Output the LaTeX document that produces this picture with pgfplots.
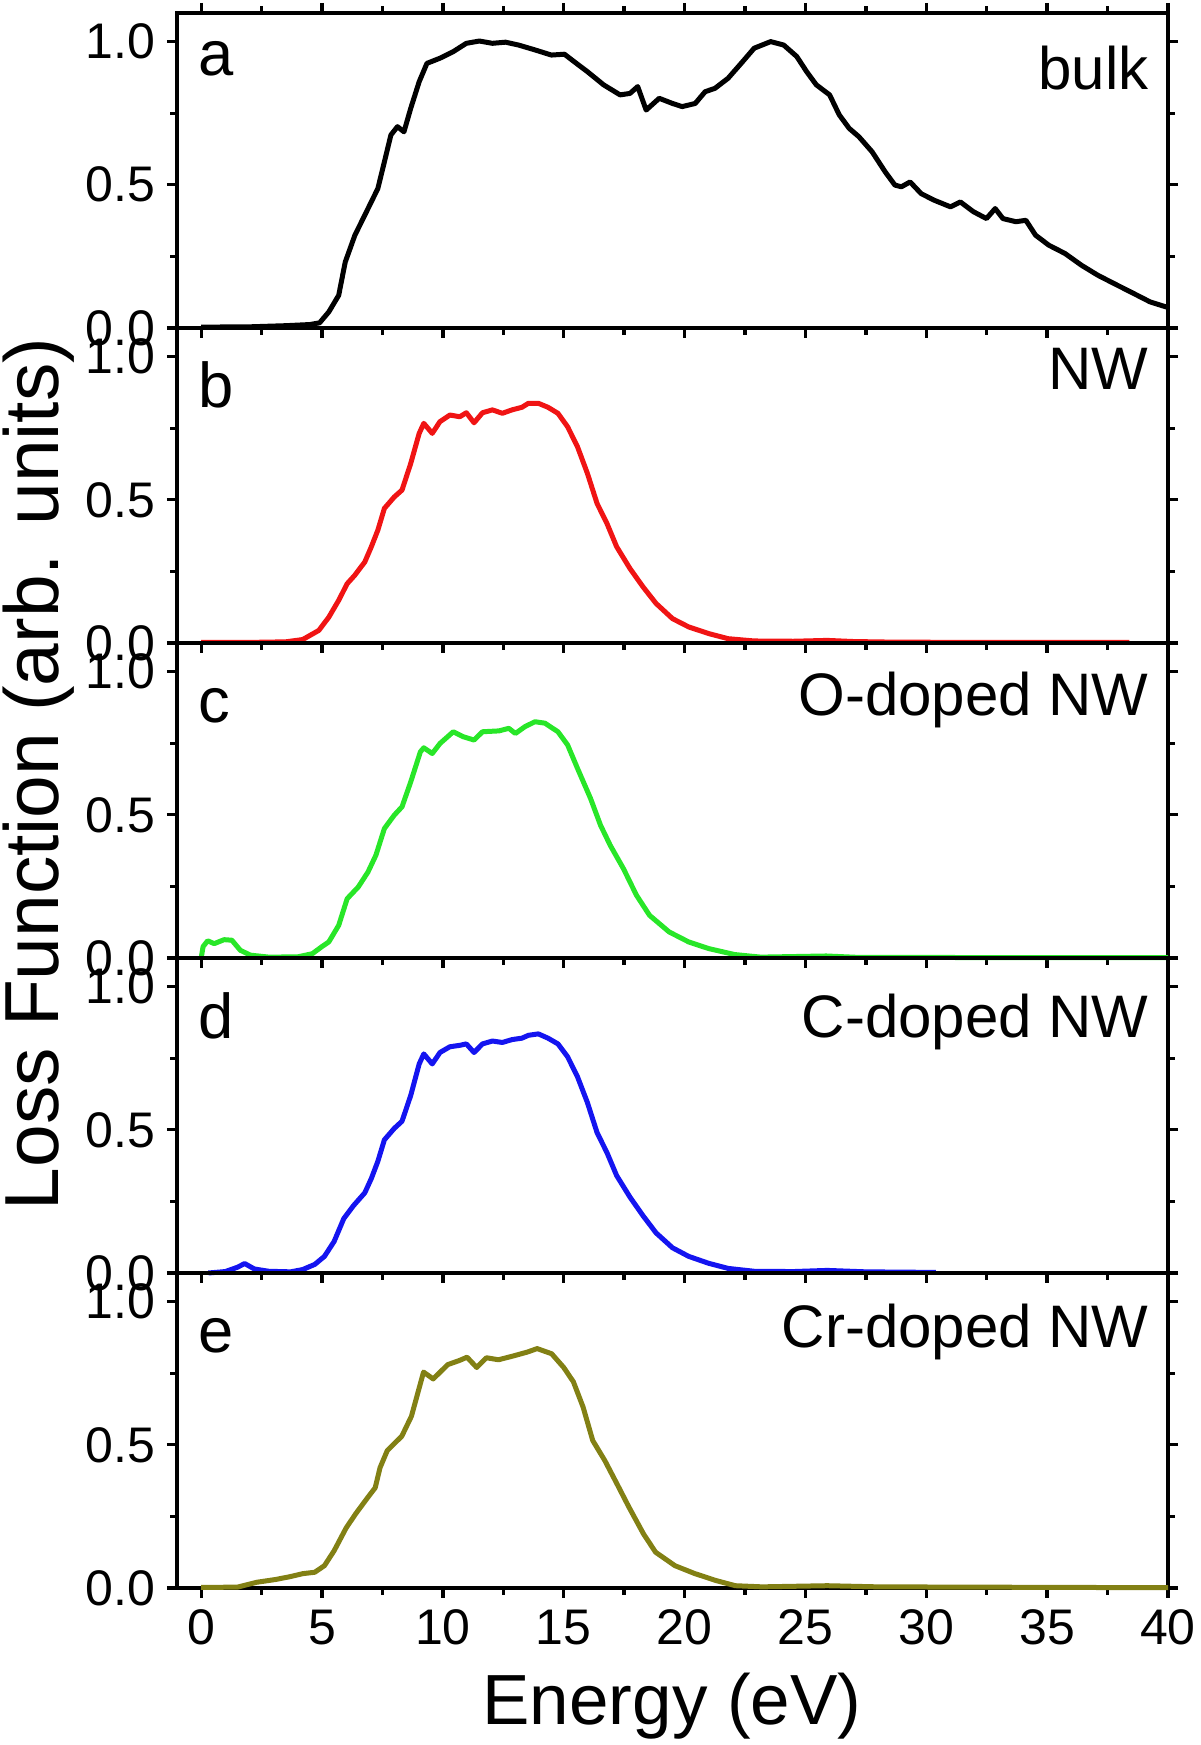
\documentclass[border=0pt]{standalone}
\usepackage{fontspec}
\setmainfont{Liberation Sans}
\usepackage{pgfplots}
\pgfplotsset{compat=1.18}
\definecolor{cgreen}{RGB}{40,230,40}
\definecolor{cblue}{RGB}{20,20,240}
\definecolor{cred}{RGB}{240,20,20}
\definecolor{colive}{RGB}{130,128,20}
\tikzset{
  curve/.style={line width=1.5pt, line join=round},
  lab/.style={font=\fontsize{19}{22}\selectfont, anchor=base west, inner sep=0pt},
  ann/.style={font=\fontsize{18}{21}\selectfont, anchor=base east, inner sep=0pt},
}
\pgfplotsset{
  panel/.style={
    scale only axis, width=297.3pt, height=94.5pt,
    anchor=south west,
    xmin=-1, xmax=40, ymin=0, ymax=1.1,
    xtick={0,5,...,40}, minor xtick={2.5,7.5,...,37.5},
    ytick={0,0.5,1}, minor ytick={0.25,0.75},
    tick align=outside,
    major tick length=3pt, minor tick length=2pt,
    every tick/.style={black, line width=1pt},
    axis line style={line width=1.3pt},
    xtick pos=left, ytick pos=both,
    clip=false,
    /pgf/number format/assume math mode=true,
    ticklabel style={font=\fontsize{15}{18}\selectfont},
    yticklabel style={/pgf/number format/.cd, fixed, fixed zerofill, precision=1},
    xticklabels={},
  },
}
\begin{document}
\begin{tikzpicture}
\path[use as bounding box] (0,0) rectangle (360pt,523.5pt);
% panel a
\begin{axis}[panel, at={(53.1pt,425.1pt)}, xtick pos=both]
\addplot[curve, black] coordinates {(0,0.003)(2,0.004)(3.5,0.008)(4.5,0.012)(4.9,0.018)(5.28,0.056)(5.69,0.114)(5.96,0.23)(6.36,0.324)(6.77,0.394)(7.31,0.487)(7.58,0.58)(7.85,0.674)(8.12,0.703)(8.39,0.685)(8.67,0.767)(9.02,0.86)(9.34,0.924)(9.88,0.942)(10.43,0.965)(10.97,0.994)(11.51,1.002)(12.05,0.994)(12.59,0.998)(13.13,0.988)(13.81,0.971)(14.49,0.953)(15.03,0.956)(15.43,0.93)(15.98,0.895)(16.65,0.849)(17.33,0.814)(17.74,0.819)(18.06,0.843)(18.41,0.761)(18.95,0.802)(19.5,0.784)(19.9,0.773)(20.44,0.784)(20.85,0.825)(21.26,0.837)(21.8,0.872)(22.34,0.924)(22.88,0.977)(23.56,1.0)(24.1,0.988)(24.64,0.948)(25.05,0.895)(25.45,0.849)(26.0,0.814)(26.4,0.744)(26.81,0.697)(27.21,0.668)(27.76,0.615)(28.3,0.545)(28.7,0.499)(28.97,0.493)(29.33,0.51)(29.79,0.469)(30.33,0.446)(31.0,0.423)(31.41,0.44)(31.95,0.406)(32.49,0.382)(32.85,0.417)(33.17,0.382)(33.71,0.371)(34.12,0.376)(34.52,0.324)(35.07,0.289)(35.74,0.26)(36.42,0.219)(37.1,0.184)(37.77,0.155)(38.45,0.126)(39.26,0.091)(39.94,0.073)};
\node[lab] at (rel axis cs:0.021,0.803) {a};
\node[ann] at (rel axis cs:0.981,0.756) {bulk};
\end{axis}
% panel b
\begin{axis}[panel, at={(53.1pt,330.6pt)}]
\addplot[curve, cred] coordinates {(0,0.002)(2,0.002)(3.5,0.004)(4.2,0.012)(4.87,0.044)(5.28,0.09)(5.69,0.149)(6.04,0.207)(6.36,0.237)(6.77,0.283)(7.04,0.336)(7.31,0.394)(7.58,0.47)(7.99,0.51)(8.31,0.534)(8.67,0.627)(9.02,0.732)(9.21,0.767)(9.56,0.732)(9.88,0.773)(10.29,0.796)(10.7,0.79)(10.97,0.804)(11.29,0.769)(11.64,0.804)(12.05,0.814)(12.46,0.802)(12.86,0.814)(13.27,0.823)(13.54,0.837)(13.95,0.837)(14.35,0.823)(14.76,0.802)(15.16,0.755)(15.57,0.685)(15.98,0.592)(16.38,0.487)(16.79,0.417)(17.19,0.336)(17.74,0.26)(18.28,0.196)(18.82,0.138)(19.5,0.085)(20.17,0.056)(20.99,0.033)(21.8,0.015)(22.88,0.007)(24.5,0.006)(25.9,0.009)(27,0.005)(28.6,0.003)(32,0.002)(38.4,0.002)};
\node[lab] at (rel axis cs:0.021,0.748) {b};
\node[ann] at (rel axis cs:0.981,0.806) {NW};
\end{axis}
% panel c
\begin{axis}[panel, at={(53.1pt,236.1pt)}]
\addplot[curve, cgreen] coordinates {(0,0.0)(0.08,0.04)(0.27,0.06)(0.54,0.05)(0.95,0.064)(1.27,0.062)(1.62,0.027)(2.03,0.01)(2.8,0.003)(4.0,0.004)(4.6,0.015)(5.0,0.04)(5.28,0.056)(5.69,0.114)(6.04,0.207)(6.5,0.248)(6.9,0.3)(7.23,0.359)(7.58,0.452)(7.99,0.499)(8.31,0.528)(8.67,0.615)(9.07,0.72)(9.21,0.734)(9.56,0.714)(9.88,0.749)(10.43,0.79)(10.83,0.773)(11.29,0.761)(11.64,0.79)(12.32,0.793)(12.73,0.802)(13.0,0.784)(13.4,0.808)(13.81,0.825)(14.22,0.82)(14.76,0.79)(15.16,0.744)(15.57,0.662)(16.11,0.557)(16.52,0.464)(16.92,0.394)(17.47,0.312)(18.01,0.219)(18.55,0.149)(19.36,0.091)(20.17,0.056)(20.99,0.033)(22.07,0.012)(23.15,0.003)(25.86,0.007)(27.2,0.002)(40,0.001)};
\node[lab] at (rel axis cs:0.021,0.746) {c};
\node[ann] at (rel axis cs:0.981,0.771) {O-doped NW};
\end{axis}
% panel d
\begin{axis}[panel, at={(53.1pt,141.6pt)}]
\addplot[curve, cblue] coordinates {(0.3,0)(1.0,0.005)(1.5,0.02)(1.8,0.033)(2.2,0.014)(2.8,0.006)(3.7,0.004)(4.2,0.012)(4.7,0.03)(5.1,0.058)(5.5,0.11)(5.9,0.19)(6.3,0.235)(6.77,0.28)(7.04,0.33)(7.31,0.39)(7.58,0.465)(7.99,0.505)(8.31,0.53)(8.67,0.62)(9.02,0.73)(9.21,0.765)(9.56,0.73)(9.88,0.77)(10.29,0.79)(10.7,0.795)(10.97,0.8)(11.29,0.77)(11.64,0.8)(12.05,0.81)(12.46,0.805)(12.86,0.815)(13.27,0.82)(13.54,0.83)(13.95,0.835)(14.35,0.82)(14.76,0.8)(15.16,0.755)(15.57,0.685)(15.98,0.595)(16.38,0.49)(16.79,0.42)(17.19,0.34)(17.74,0.265)(18.28,0.2)(18.82,0.14)(19.5,0.088)(20.17,0.058)(20.99,0.034)(21.8,0.016)(22.88,0.006)(24.5,0.005)(25.9,0.009)(27.5,0.004)(30.4,0.002)};
\node[lab] at (rel axis cs:0.021,0.743) {d};
\node[ann] at (rel axis cs:0.981,0.746) {C-doped NW};
\end{axis}
% panel e
\begin{axis}[panel, at={(53.1pt,47.1pt)}, xticklabels={0,5,10,15,20,25,30,35,40}]
\addplot[curve, colive] coordinates {(0,0.002)(1.5,0.003)(2.3,0.02)(3.1,0.03)(3.7,0.04)(4.2,0.05)(4.7,0.055)(5.1,0.078)(5.5,0.13)(6.0,0.21)(6.4,0.26)(6.9,0.317)(7.2,0.35)(7.4,0.42)(7.7,0.48)(8.3,0.53)(8.7,0.6)(9.2,0.754)(9.6,0.73)(10.2,0.78)(10.7,0.795)(11.0,0.806)(11.4,0.77)(11.8,0.804)(12.3,0.797)(12.9,0.81)(13.5,0.824)(13.9,0.836)(14.5,0.818)(15.0,0.77)(15.4,0.72)(15.8,0.632)(16.2,0.515)(16.7,0.445)(17.2,0.364)(17.7,0.282)(18.3,0.189)(18.8,0.125)(19.6,0.078)(20.4,0.051)(21.3,0.026)(22.1,0.008)(23.2,0.004)(25.9,0.008)(28.0,0.004)(40,0.001)};
\node[lab] at (rel axis cs:0.021,0.749) {e};
\node[ann] at (rel axis cs:0.981,0.762) {Cr-doped NW};
\end{axis}
\node[rotate=90, font=\fontsize{23}{27}\selectfont] at (11.7pt,291.3pt) {Loss Function (arb. units)};
\node[anchor=base, font=\fontsize{21.3}{25}\selectfont] at (201.6pt,6pt) {Energy (eV)};
\end{tikzpicture}
\end{document}
